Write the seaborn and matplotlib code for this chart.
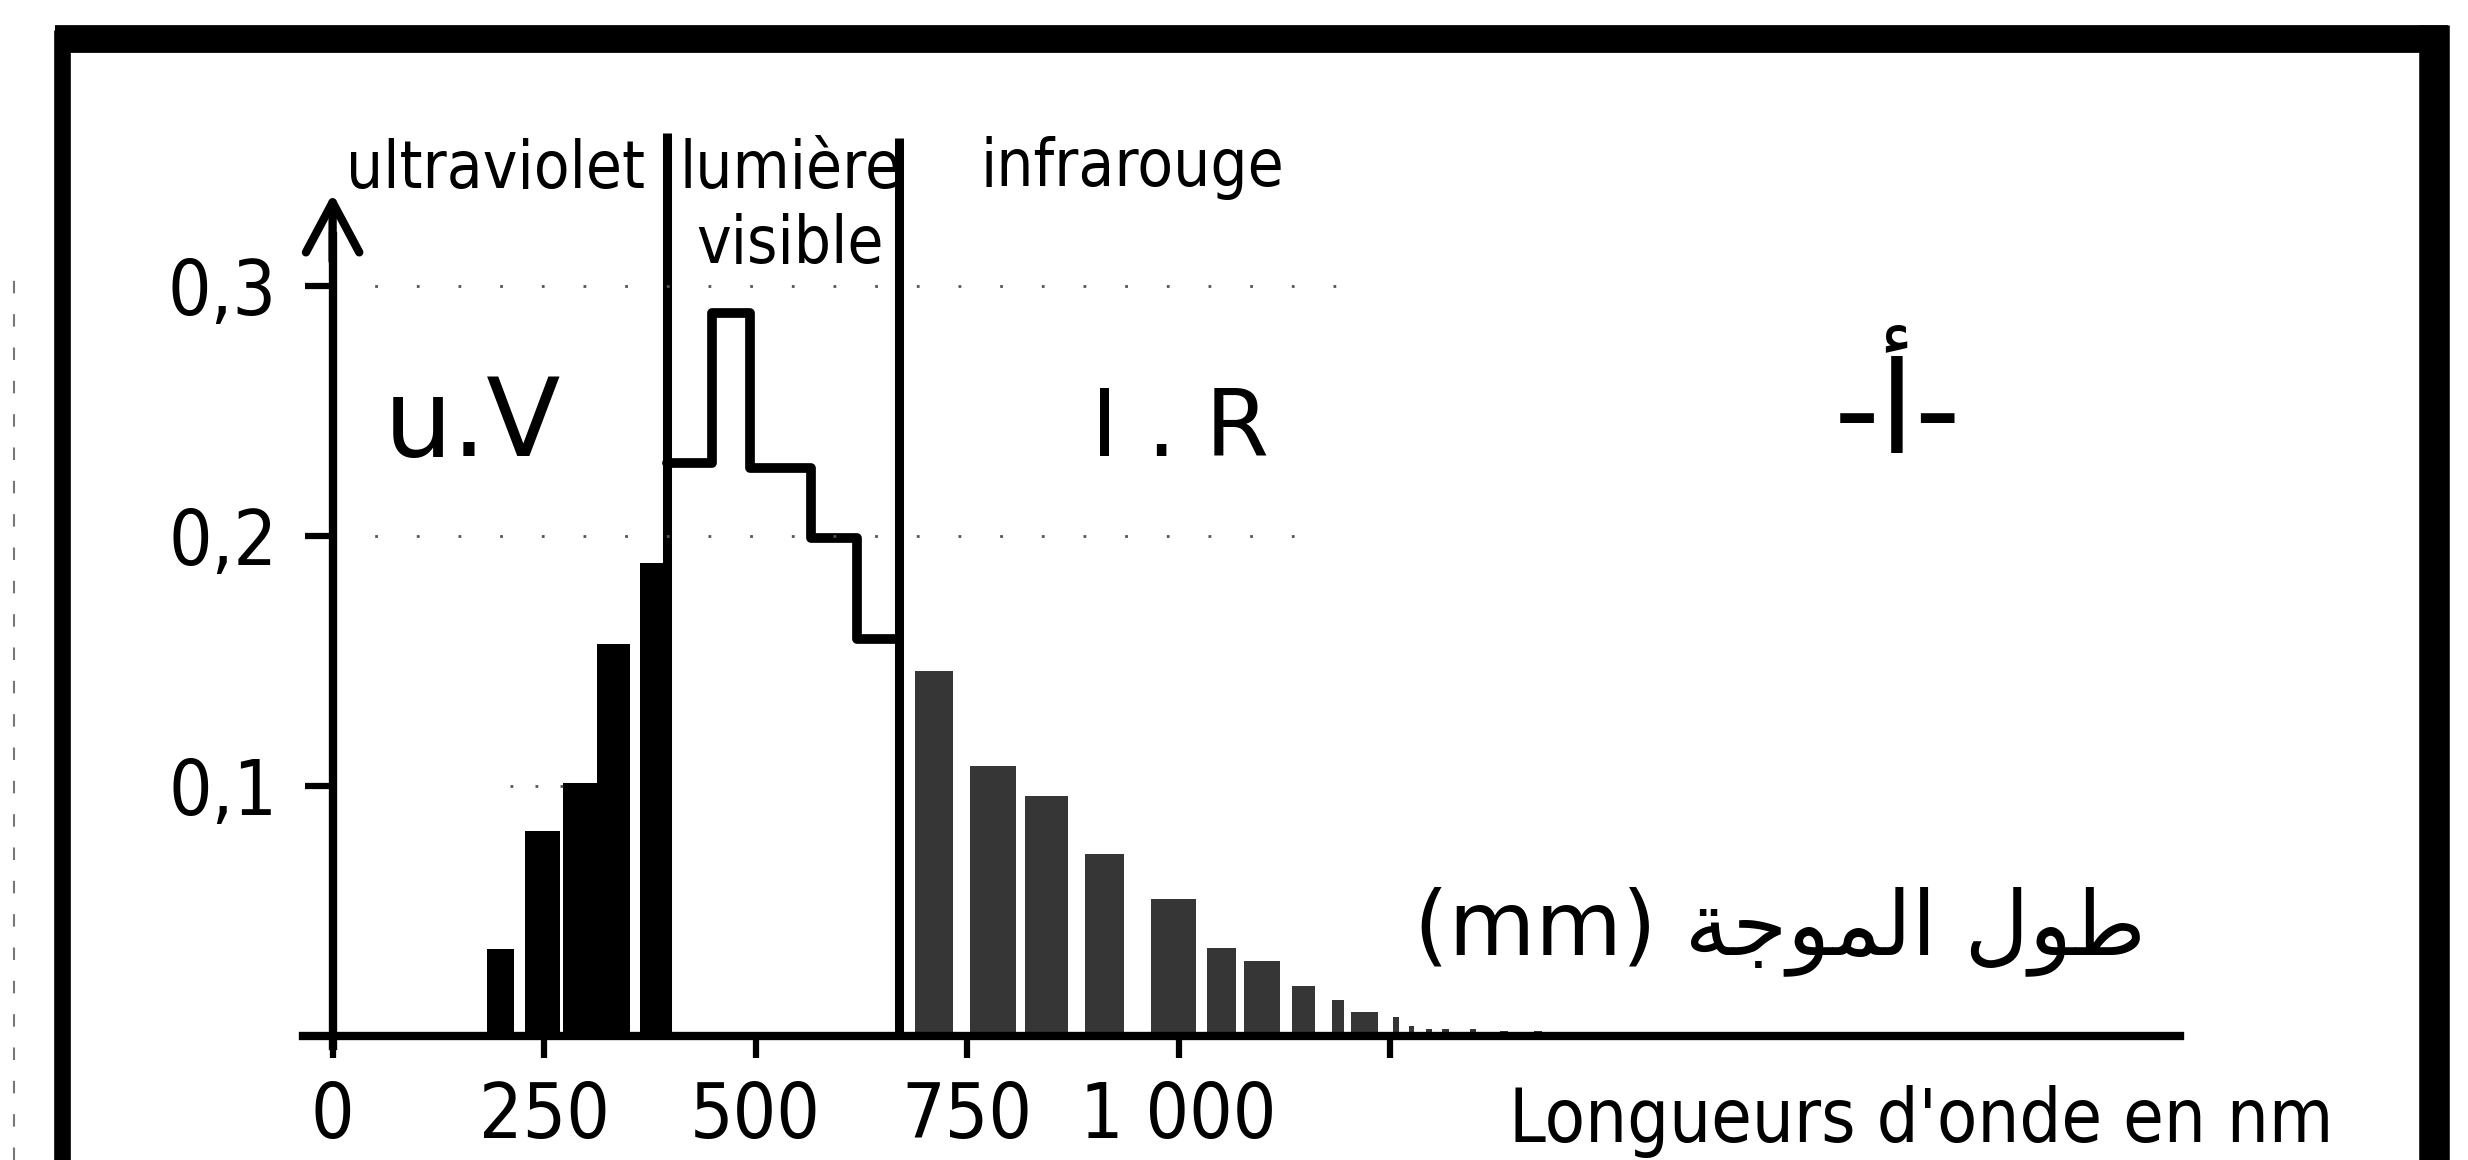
import matplotlib
matplotlib.use('Agg')
import matplotlib.pyplot as plt
from matplotlib.lines import Line2D
from matplotlib.ticker import FixedLocator, FixedFormatter
import seaborn as sns

# ultraviolet bars (nm bands, relative energy)
uv_start = [183, 227, 272, 313, 363]
uv_end = [214, 269, 313, 352, 399]
uv_value = [0.035, 0.082, 0.101, 0.157, 0.189]

# visible light, drawn as an outline of steps
vis_edges = [395, 449, 494, 565, 620, 669]
vis_levels = [0.229, 0.289, 0.227, 0.199, 0.159]

# infrared bars
ir_start = [688, 753, 819, 889, 968, 1034, 1077, 1134, 1181, 1204, 1253, 1272, 1292, 1312, 1345, 1380, 1420, 1450]
ir_end = [733, 808, 869, 936, 1021, 1068, 1120, 1161, 1196, 1236, 1261, 1278, 1300, 1320, 1352, 1390, 1430, 1476]
ir_value = [0.146, 0.108, 0.096, 0.073, 0.055, 0.035, 0.030, 0.020, 0.0145, 0.0095, 0.0075,
            0.004, 0.003, 0.003, 0.003, 0.002, 0.002, 0.0015]

band_edges = [395, 669]
band_names = ['ultraviolet', 'lumière\nvisible', 'infrarouge']
x_ticks = [0, 250, 500, 750, 1000, 1250]
x_labels = ['0', '250', '500', '750', '1 000', '']
y_ticks = [0, 0.1, 0.2, 0.3]
y_labels = ['', '0,1', '0,2', '0,3']

sns.set_theme(style='white')
plt.rcParams['font.family'] = ['DejaVu Sans']
plt.rcParams['font.stretch'] = 'condensed'
plt.rcParams['text.color'] = 'black'
plt.rcParams['xtick.color'] = 'black'
plt.rcParams['ytick.color'] = 'black'

fig = plt.figure(figsize=(24.68, 11.6), dpi=100)
ax = fig.add_axes([0, 0, 1, 1])
ax.patch.set_alpha(0)


def centers(a, b):
    return [(s + e) / 2 for s, e in zip(a, b)]


sns.histplot(x=centers(uv_start, uv_end), weights=uv_value,
             bins=sorted(set(uv_start + uv_end)), color='black', alpha=1,
             linewidth=0, ax=ax)
sns.histplot(x=centers(ir_start, ir_end), weights=ir_value,
             bins=sorted(set(ir_start + ir_end)), color='#363636', alpha=1,
             linewidth=0, ax=ax)
sns.lineplot(x=vis_edges, y=vis_levels + [vis_levels[-1]], drawstyle='steps-post',
             estimator=None, sort=False, color='black', lw=7, ax=ax)
ax.vlines(band_edges, 0, [0.361, 0.359], color='black', lw=6.5)

# sparse dotted guides
ax.hlines(0.3, 0, 1208, color='#555555', lw=2, linestyles=(0, (1, 14)))
ax.hlines(0.2, 0, 1150, color='#555555', lw=2, linestyles=(0, (1, 14)))
ax.hlines(0.1, 210, 273, color='#555555', lw=2, linestyles=(0, (1, 8)))

ax.set_xlim(-393.2, 2524.4)
ax.set_ylim(-0.0496, 0.4144)
ax.set_xlabel('')
ax.set_ylabel('')

for s in ['top', 'right']:
    ax.spines[s].set_visible(False)
ax.spines['left'].set_position(('data', 0))
ax.spines['bottom'].set_position(('data', 0))
ax.spines['left'].set_bounds(-0.004, 0.32)
ax.spines['bottom'].set_bounds(-35, 2184)
ax.spines['left'].set_linewidth(6)
ax.spines['bottom'].set_linewidth(6)
ax.spines['left'].set_color('black')
ax.spines['bottom'].set_color('black')
ax.annotate('', xy=(0, 0.337), xytext=(0, 0.31),
            arrowprops=dict(arrowstyle='->,head_length=0.6,head_width=0.32',
                            lw=6, color='black', mutation_scale=60,
                            shrinkA=0, shrinkB=0))

ax.xaxis.set_major_locator(FixedLocator(x_ticks))
ax.xaxis.set_major_formatter(FixedFormatter(x_labels))
ax.yaxis.set_major_locator(FixedLocator(y_ticks))
ax.yaxis.set_major_formatter(FixedFormatter(y_labels))
ax.tick_params(axis='x', direction='out', length=16, width=4.5, pad=16,
               labelsize=55, color='black', bottom=True)
ax.tick_params(axis='y', direction='out', length=20, width=4.5, pad=20,
               labelsize=55, color='black', left=True)

ax.text(192, 0.339, band_names[0], ha='center', va='baseline', fontsize=47)
ax.text(541, 0.339, 'lumière', ha='center', va='baseline', fontsize=47)
ax.text(541, 0.309, 'visible', ha='center', va='baseline', fontsize=47)
ax.text(945, 0.340, band_names[2], ha='center', va='baseline', fontsize=47)
ax.text(1391, -0.0424, "Longueurs d'onde en nm", ha='left', va='baseline', fontsize=53)

# handwritten notes
ax.text(165, 0.232, 'u.V', ha='center', va='baseline', fontsize=78, fontstretch='normal')
ax.text(1002, 0.232, 'I . R', ha='center', va='baseline', fontsize=66, fontstretch='normal')
ax.text(1850, 0.248, '-أ-', ha='center', va='center', fontsize=92, fontstretch='normal')
arabic = '(mm) ' + '\ufe94\ufe9f\ufeee\ufee4\ufedf\ufe8d \ufedd\ufeee\ufec3'
ax.text(1711, 0.042, arabic, ha='center', va='center', fontsize=64, fontstretch='normal')

# scanned page frame
fig.add_artist(Line2D([62 / 2468, 62 / 2468], [0, 1 - 30 / 1160], color='black', lw=12,
                      solid_capstyle='butt'))
fig.add_artist(Line2D([55 / 2468, 2448 / 2468], [1 - 39 / 1160, 1 - 39 / 1160], color='black', lw=20,
                      solid_capstyle='butt'))
fig.add_artist(Line2D([2434 / 2468, 2434 / 2468], [0, 1 - 25 / 1160], color='black', lw=22,
                      solid_capstyle='butt'))
fig.add_artist(Line2D([14 / 2468, 14 / 2468], [0, 1 - 260 / 1160], color='#777777', lw=1.5,
                      linestyle=(0, (6, 10))))

fig.savefig('out.png', dpi=100)
